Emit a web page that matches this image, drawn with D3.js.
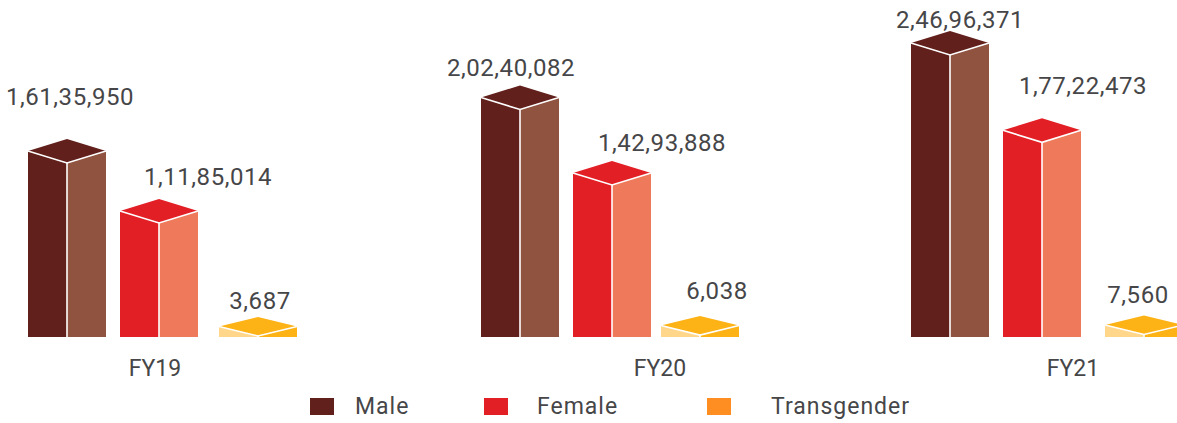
<!DOCTYPE html>
<html><head><meta charset="utf-8">
<script src="https://cdn.jsdelivr.net/npm/d3@7"></script>
<style>html,body{margin:0;background:#fff;overflow:hidden}svg{display:block}text{font-family:Roboto,sans-serif;fill:#464648}</style>
</head><body><svg id="c" width="1177" height="423"></svg>
<script>
const years = ["FY19","FY20","FY21"];
const seriesNames = ["Male","Female","Transgender"];
const male = [16135950,20240082,24696371];
const female = [11185014,14293888,17722473];
const transgender = [3687,6038,7560];
const valueLabels = [
  ["1,61,35,950","2,02,40,082","2,46,96,371"],
  ["1,11,85,014","1,42,93,888","1,77,22,473"],
  ["3,687","6,038","7,560"]];
const values = [male,female,transgender];

const base=337,hw=39;
const capRise=[12,12,9.5];
const svg=d3.select("#c");
const groupX=d3.scaleOrdinal().domain(years).range([67,520,950]);
const seriesOffset=[[0,0,0],[92,92,92],[191,180,194]];
// The picture's bar heights are not strictly proportional, so the scale is piecewise.
const y=d3.scaleLinear()
  .domain([0,3687,7560,11185014,14293888,16135950,20240082,24696371])
  .range([336.5,336,334.5,223,185,163,109.5,55]);
const colors=[
 {l:"#61201b",r:"#8f5340",t:"#61201b",k:"#61201b"},
 {l:"#e31f26",r:"#ef7a5b",t:"#e31f26",k:"#e31f26"},
 {l:"#ffd68a",r:"#fdb215",t:"#fdb215",k:"#ff8e22"}];

values.forEach((vals,s)=>{
  const dy=capRise[s];
  vals.forEach((v,i)=>{
    const cx=groupX(years[i])+seriesOffset[s][i], ty=y(v), c=colors[s];
    const g=svg.append("g");
    g.append("path").attr("d",d3.line()([[cx-hw,ty-dy],[cx,ty],[cx,base],[cx-hw,base]])+"Z").attr("fill",c.l);
    g.append("path").attr("d",d3.line()([[cx,ty],[cx+hw,ty-dy],[cx+hw,base],[cx,base]])+"Z").attr("fill",c.r);
    g.append("path").attr("d",d3.line()([[cx-hw,ty-dy],[cx,ty-2*dy],[cx+hw,ty-dy],[cx,ty]])+"Z").attr("fill",c.t);
    g.append("path").attr("d",d3.line()([[cx-hw,ty-dy],[cx,ty],[cx+hw,ty-dy]])).attr("fill","none").attr("stroke","#fff").attr("stroke-width",1.6);
    g.append("line").attr("x1",cx).attr("x2",cx).attr("y1",ty).attr("y2",base).attr("stroke","#fff").attr("stroke-width",1.6);
  });
});

const labelCentre=[[70,511,960],[208,662,1083],[260,717,1138]];
const labelBase=[[105,76,28],[185,151,94],[309,299,303]];
values.forEach((vals,s)=>vals.forEach((v,i)=>{
  svg.append("text").attr("x",labelCentre[s][i]).attr("y",labelBase[s][i]).attr("text-anchor","middle")
    .attr("font-size",24).attr("letter-spacing",0.55).text(valueLabels[s][i]);
}));

const catX=d3.scaleOrdinal().domain(years).range([155,660,1073]);
years.forEach(t=>svg.append("text").attr("x",catX(t)).attr("y",376).attr("text-anchor","middle").attr("font-size",23).text(t));

const legX=d3.scaleOrdinal().domain(seriesNames).range([310,484,707]);
const legTx=d3.scaleOrdinal().domain(seriesNames).range([355,537,771]);
seriesNames.forEach((n,s)=>{
  svg.append("rect").attr("x",legX(n)).attr("y",398).attr("width",24).attr("height",17).attr("fill",colors[s].k);
  svg.append("text").attr("x",legTx(n)).attr("y",414).attr("font-size",23).attr("letter-spacing",1).text(n);
});
</script></body></html>
